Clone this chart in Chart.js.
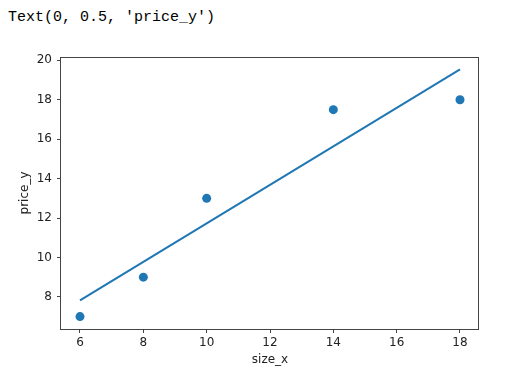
<!DOCTYPE html>
<html>
<head>
<meta charset="utf-8">
<script src="https://cdn.jsdelivr.net/npm/chart.js@4/dist/chart.umd.min.js"></script>
<style>
  body { margin: 0; background: #fff; }
  #wrap { position: relative; width: 528px; height: 392px; }
  #out { position: absolute; left: 8px; top: 9px; font: 15px "Liberation Mono", monospace; color: #000; white-space: pre; }
  #cv { position: absolute; left: 0; top: 0; }
</style>
</head>
<body>
<div id="wrap">
  <div id="out">Text(0, 0.5, 'price_y')</div>
  <canvas id="cv" width="528" height="392"></canvas>
</div>
<script>
let sizeX = [6, 8, 10, 14, 18]
let priceY = [7, 9, 13, 17.5, 18]

// fitted line at both ends
let fitX = [6, 18]
let fitY = [7.82, 19.54]

let xTicks = [6, 8, 10, 12, 14, 16, 18]
let yTicks = [8, 10, 12, 14, 16, 18, 20]

let blue = '#1f77b4'
let axisColor = '#444'

let points = sizeX.map(function(x, i) { return { x: x, y: priceY[i] } })
let fitLine = fitX.map(function(x, i) { return { x: x, y: fitY[i] } })

let frame = {
    id: 'frame',
    afterDraw: function(chart) {
        let a = chart.chartArea
        let ctx = chart.ctx
        ctx.save()
        ctx.strokeStyle = axisColor
        ctx.lineWidth = 1
        ctx.strokeRect(Math.round(a.left) - 0.5, Math.round(a.top) + 0.5, Math.round(a.right - a.left), Math.round(a.bottom - a.top))
        ctx.restore()
    }
}

let tickFont = { family: 'DejaVu Sans', size: 12 }

let chart = new Chart(document.getElementById('cv'), {
    type: 'scatter',
    data: {
        datasets: [{
                label: 'fit',
                data: fitLine,
                showLine: true,
                borderColor: blue,
                borderWidth: 2,
                pointRadius: 0,
                fill: false
            },
            {
                label: 'data',
                data: points,
                backgroundColor: blue,
                borderWidth: 0,
                pointRadius: 4.5
            }
        ]
    },
    options: {
        responsive: false,
        animation: false,
        layout: { padding: { left: 0, top: 57, right: 49, bottom: 0 } },
        plugins: { legend: { display: false }, tooltip: { enabled: false } },
        scales: {
            x: {
                min: 5.4,
                max: 18.6,
                afterBuildTicks: function(scale) { scale.ticks = xTicks.map(function(v) { return { value: v } }) },
                afterFit: function(scale) { scale.height = 63 },
                grid: { drawOnChartArea: false, drawTicks: true, tickLength: 4, color: axisColor },
                border: { display: false },
                ticks: { color: '#222', font: tickFont, padding: 3, maxRotation: 0 },
                title: { display: true, text: 'size_x', color: '#222', font: tickFont, padding: { bottom: 25 } }
            },
            y: {
                min: 6.37,
                max: 20.17,
                afterBuildTicks: function(scale) { scale.ticks = yTicks.map(function(v) { return { value: v } }) },
                afterFit: function(scale) { scale.width = 61 },
                grid: { drawOnChartArea: false, drawTicks: true, tickLength: 4, color: axisColor },
                border: { display: false },
                ticks: { color: '#222', font: tickFont, padding: 5 },
                title: { display: true, text: 'price_y', color: '#222', font: tickFont, padding: { top: 18 } }
            }
        }
    },
    plugins: [frame]
})
</script>
</body>
</html>
